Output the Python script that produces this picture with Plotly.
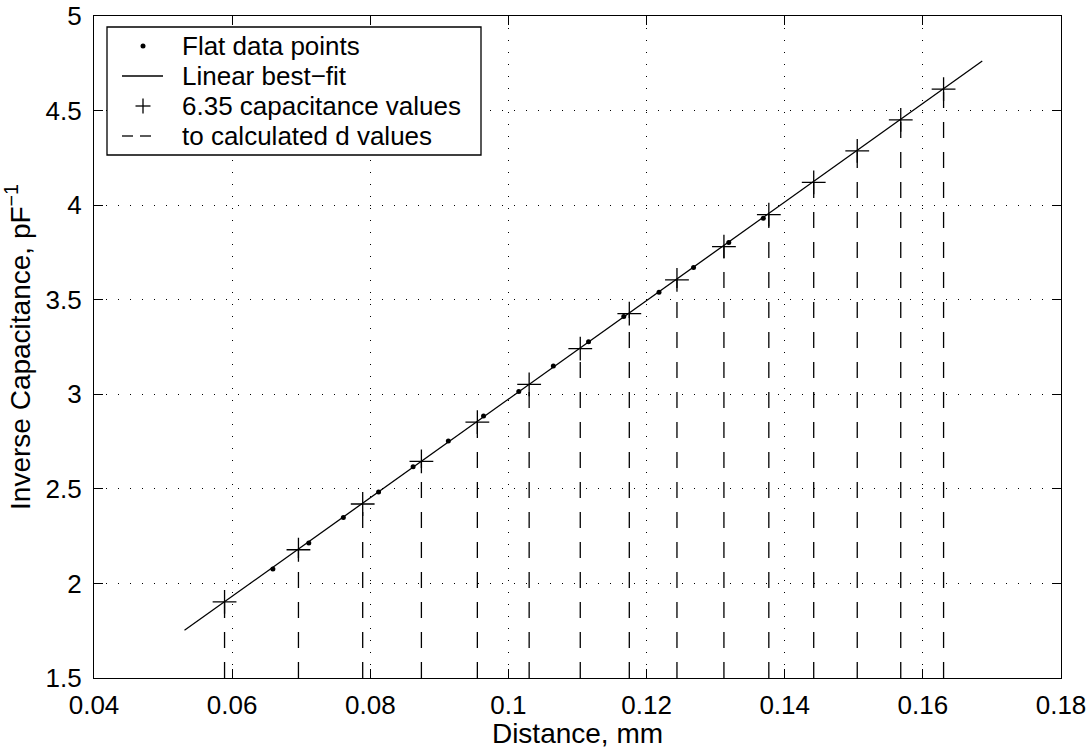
import plotly.graph_objects as go

# ---- data ----
flat_d = [0.0659, 0.0711, 0.0761, 0.0812, 0.0862, 0.0913, 0.0964, 0.1015,
          0.1065, 0.1116, 0.1167, 0.1218, 0.1268, 0.1319, 0.1369]
flat_invc = [2.076, 2.214, 2.349, 2.483, 2.617, 2.753, 2.885, 3.015,
             3.149, 3.278, 3.411, 3.540, 3.670, 3.802, 3.931]
fit_d = [0.0531, 0.1686]
fit_invc = [1.752, 4.762]
cap_d = [0.0589, 0.0696, 0.0789, 0.0874, 0.0955, 0.1030, 0.1104, 0.1175,
         0.1244, 0.1312, 0.1377, 0.1442, 0.1505, 0.1568, 0.1630]
cap_invc = [1.902, 2.178, 2.420, 2.645, 2.853, 3.052, 3.241, 3.426,
            3.605, 3.781, 3.950, 4.120, 4.287, 4.451, 4.613]
x_ticks = [0.04, 0.06, 0.08, 0.10, 0.12, 0.14, 0.16, 0.18]
x_tick_labels = ["0.04", "0.06", "0.08", "0.1", "0.12", "0.14", "0.16", "0.18"]
y_ticks = [1.5, 2.0, 2.5, 3.0, 3.5, 4.0, 4.5, 5.0]
y_tick_labels = ["1.5", "2", "2.5", "3", "3.5", "4", "4.5", "5"]
y_floor = 1.5
legend_labels = ["Flat data points", "Linear best\u2212fit",
                 "6.35 capacitance values", "to calculated d values"]

FONT = "Liberation Sans, Arial, Helvetica, sans-serif"
W, H = 1091, 749
L, R, T, B = 94, 30, 16, 71
PW, PH = W - L - R, H - T - B


def px(xp):
    return (xp - L) / PW


def py(yp):
    return (H - B - yp) / PH


fig = go.Figure()

# dashed drop lines from the axis floor to each computed point
dx, dy = [], []
for xv, yv in zip(cap_d, cap_invc):
    dx += [xv, xv, None]
    dy += [y_floor, yv, None]
fig.add_trace(go.Scatter(x=dx, y=dy, mode="lines", name="to calculated d values",
                         line=dict(color="black", width=1.3, dash="16px,14px"),
                         showlegend=False, hoverinfo="skip"))
fig.add_trace(go.Scatter(x=fit_d, y=fit_invc, mode="lines", name="Linear best-fit",
                         line=dict(color="black", width=1.3), showlegend=False))
fig.add_trace(go.Scatter(x=flat_d, y=flat_invc, mode="markers", name="Flat data points",
                         marker=dict(color="black", size=5, symbol="circle"),
                         showlegend=False))
fig.add_trace(go.Scatter(x=cap_d, y=cap_invc, mode="markers", name="6.35 capacitance values",
                         marker=dict(symbol="cross-thin", size=17, color="black",
                                     line=dict(color="black", width=1.3)),
                         showlegend=False))

axis_common = dict(showline=True, linecolor="black", linewidth=1.3, mirror="ticks",
                   ticks="inside", ticklen=9, tickwidth=1.3, tickcolor="black",
                   showgrid=True, gridcolor="black", gridwidth=1, griddash="1px,11px",
                   zeroline=False, tickfont=dict(family=FONT, size=26, color="black"))

fig.update_xaxes(range=[0.04, 0.18], tickvals=x_ticks, ticktext=x_tick_labels,
                 title=dict(text="Distance, mm", font=dict(family=FONT, size=28, color="black"),
                            standoff=2),
                 ticklabelstandoff=4, **axis_common)
fig.update_yaxes(range=[1.5, 5], tickvals=y_ticks, ticktext=y_tick_labels,
                 title=dict(text="Inverse Capacitance, pF<sup>\u22121</sup>",
                            font=dict(family=FONT, size=28, color="black"), standoff=8),
                 ticklabelstandoff=6, **axis_common)

# ---- legend box drawn in pixel positions ----
shapes = [dict(type="rect", xref="paper", yref="paper", layer="above",
               x0=px(107), x1=px(481), y0=py(27), y1=py(155),
               fillcolor="white", line=dict(color="black", width=1.3))]
rows = [46, 76, 106, 136]
sx = 143
# dot
shapes.append(dict(type="circle", xref="paper", yref="paper", layer="above",
                   x0=px(sx - 2.5), x1=px(sx + 2.5), y0=py(rows[0] + 2.5), y1=py(rows[0] - 2.5),
                   fillcolor="black", line=dict(color="black", width=0)))
# solid line
shapes.append(dict(type="line", xref="paper", yref="paper", layer="above",
                   x0=px(122), x1=px(163), y0=py(rows[1]), y1=py(rows[1]),
                   line=dict(color="black", width=1.3)))
# plus
shapes.append(dict(type="line", xref="paper", yref="paper", layer="above",
                   x0=px(sx - 7.5), x1=px(sx + 7.5), y0=py(rows[2]), y1=py(rows[2]),
                   line=dict(color="black", width=1.3)))
shapes.append(dict(type="line", xref="paper", yref="paper", layer="above",
                   x0=px(sx), x1=px(sx), y0=py(rows[2] - 7.5), y1=py(rows[2] + 7.5),
                   line=dict(color="black", width=1.3)))
# dashes
for a, b in [(122, 133), (140, 151)]:
    shapes.append(dict(type="line", xref="paper", yref="paper", layer="above",
                       x0=px(a), x1=px(b), y0=py(rows[3]), y1=py(rows[3]),
                       line=dict(color="black", width=1.3)))

annotations = []
for lab, r in zip(legend_labels, rows):
    annotations.append(dict(xref="paper", yref="paper", x=px(180), y=py(r),
                            xanchor="left", yanchor="middle", showarrow=False,
                            text=lab, font=dict(family=FONT, size=26, color="black")))

fig.update_layout(width=W, height=H, margin=dict(l=L, r=R, t=T, b=B, autoexpand=False),
                  plot_bgcolor="white", paper_bgcolor="white",
                  shapes=shapes, annotations=annotations, showlegend=False)

fig.write_html("out.html")
